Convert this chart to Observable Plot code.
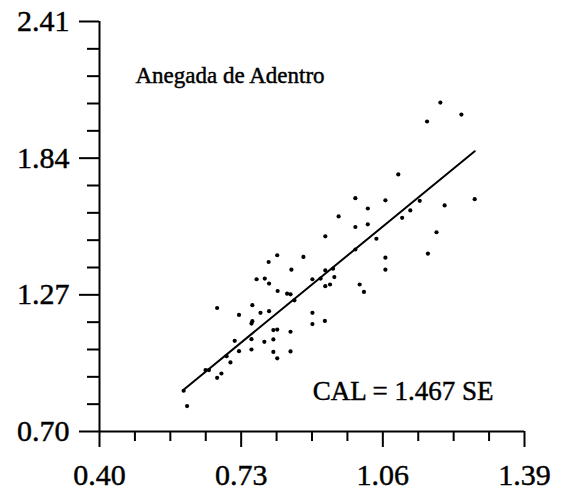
<!DOCTYPE html>
<html>
<head>
<meta charset="utf-8">
<script src="https://cdn.jsdelivr.net/npm/d3@7"></script>
<script src="https://cdn.jsdelivr.net/npm/@observablehq/plot@0.6"></script>
<style>
  html, body { margin: 0; padding: 0; background: #fff; }
  #chart { width: 562px; height: 492px; }
  #chart svg text { stroke: #000; stroke-width: 0.45px; }
</style>
</head>
<body>
<div id="chart"></div>
<script>
// SE values (x) and CAL values (y)
const seValues = [
  0.604, 0.596, 0.647, 0.655, 0.674, 0.684, 0.705, 0.696, 0.715, 0.725,
  0.725, 0.674, 0.754, 0.754, 0.754, 0.756, 0.756, 0.775, 0.784, 0.795,
  0.766, 0.785, 0.795, 0.794, 0.814, 0.815, 0.805, 0.814, 0.805, 0.805,
  0.814, 0.837, 0.845, 0.847, 0.845, 0.845, 0.854, 0.875, 0.896, 0.896,
  0.896, 0.915, 0.925, 0.926, 0.926, 0.926, 0.937, 0.944, 0.947, 0.957,
  0.996, 0.996, 0.996, 1.006, 1.016, 1.025, 1.025, 1.045, 1.066, 1.066,
  1.066, 1.096, 1.105, 1.124, 1.146, 1.165, 1.185, 1.204, 1.274, 1.163,
  1.194, 1.243
];
const calValues = [
  0.806, 0.870, 0.956, 0.956, 0.924, 0.942, 0.988, 1.014, 1.078, 1.035,
  1.186, 1.215, 1.042, 1.085, 1.150, 1.160, 1.227, 1.195, 1.074, 1.202,
  1.335, 1.338, 1.317, 1.407, 1.435, 1.286, 1.123, 1.125, 1.084, 1.032,
  1.005, 1.275, 1.272, 1.375, 1.116, 1.034, 1.247, 1.428, 1.195, 1.148,
  1.335, 1.338, 1.161, 1.514, 1.372, 1.306, 1.313, 1.379, 1.344, 1.597,
  1.673, 1.553, 1.459, 1.313, 1.282, 1.630, 1.564, 1.504, 1.664, 1.425,
  1.375, 1.772, 1.591, 1.622, 1.662, 1.442, 1.531, 1.643, 1.669, 1.993,
  2.072, 2.022
];
const xTickLabels = [0.40, 0.73, 1.06, 1.39];
const yTickLabels = [0.70, 1.27, 1.84, 2.41];
const xMinorPerInterval = 4;
const yMinorPerInterval = 5;
const slope = 1.467; // CAL = 1.467 SE
const titleText = "Anegada de Adentro";
const equationText = "CAL = 1.467 SE";

const points = seValues.map((x, i) => ({x, y: calValues[i]}));
const [xMin, xMax] = d3.extent(seValues);
const fitLine = [xMin, xMax].map(x => ({x, y: slope * x}));

function subdivide(majors, n) {
  const out = [];
  for (let i = 0; i < majors.length - 1; i++) {
    const a = majors[i], b = majors[i + 1];
    for (let k = 1; k < n; k++) out.push(a + (b - a) * k / n);
  }
  return out;
}
const xMinor = subdivide(xTickLabels, xMinorPerInterval);
const yMinor = subdivide(yTickLabels, yMinorPerInterval);
const fmt = d3.format(".2f");
const font = "'Liberation Serif', 'Times New Roman', serif";

const chart = Plot.plot({
  width: 562,
  height: 492,
  marginLeft: 99,
  marginRight: 38,
  marginTop: 21,
  marginBottom: 61,
  style: {fontFamily: font, color: "#000", background: "#fff"},
  x: {domain: [xTickLabels[0], xTickLabels[xTickLabels.length - 1]]},
  y: {domain: [yTickLabels[0], yTickLabels[yTickLabels.length - 1]]},
  marks: [
    Plot.axisX(xMinor, {tickSize: 10, strokeWidth: 2, tickFormat: () => "", label: null}),
    Plot.axisY(yMinor, {tickSize: 12, strokeWidth: 2, tickFormat: () => "", label: null}),
    Plot.axisX(xTickLabels, {tickSize: 16, tickPadding: 16, strokeWidth: 2, tickFormat: fmt, fontSize: 30, label: null}),
    Plot.axisY(yTickLabels, {tickSize: 20, tickPadding: 10, strokeWidth: 2, tickFormat: fmt, fontSize: 30, label: null}),
    Plot.ruleX([xTickLabels[0]], {strokeWidth: 2}),
    Plot.ruleY([yTickLabels[0]], {strokeWidth: 2}),
    Plot.line(fitLine, {x: "x", y: "y", stroke: "#000", strokeWidth: 2}),
    Plot.dot(points, {x: "x", y: "y", r: 2.1, fill: "#000"}),
    Plot.text([titleText], {frameAnchor: "top-left", dx: 36, dy: 54, textAnchor: "start", lineAnchor: "middle", fontSize: 23, fill: "#000"}),
    Plot.text([equationText], {frameAnchor: "bottom-right", dx: -31, dy: -40, textAnchor: "end", lineAnchor: "middle", fontSize: 27, fill: "#000"})
  ]
});
document.getElementById("chart").appendChild(chart);
</script>
</body>
</html>
